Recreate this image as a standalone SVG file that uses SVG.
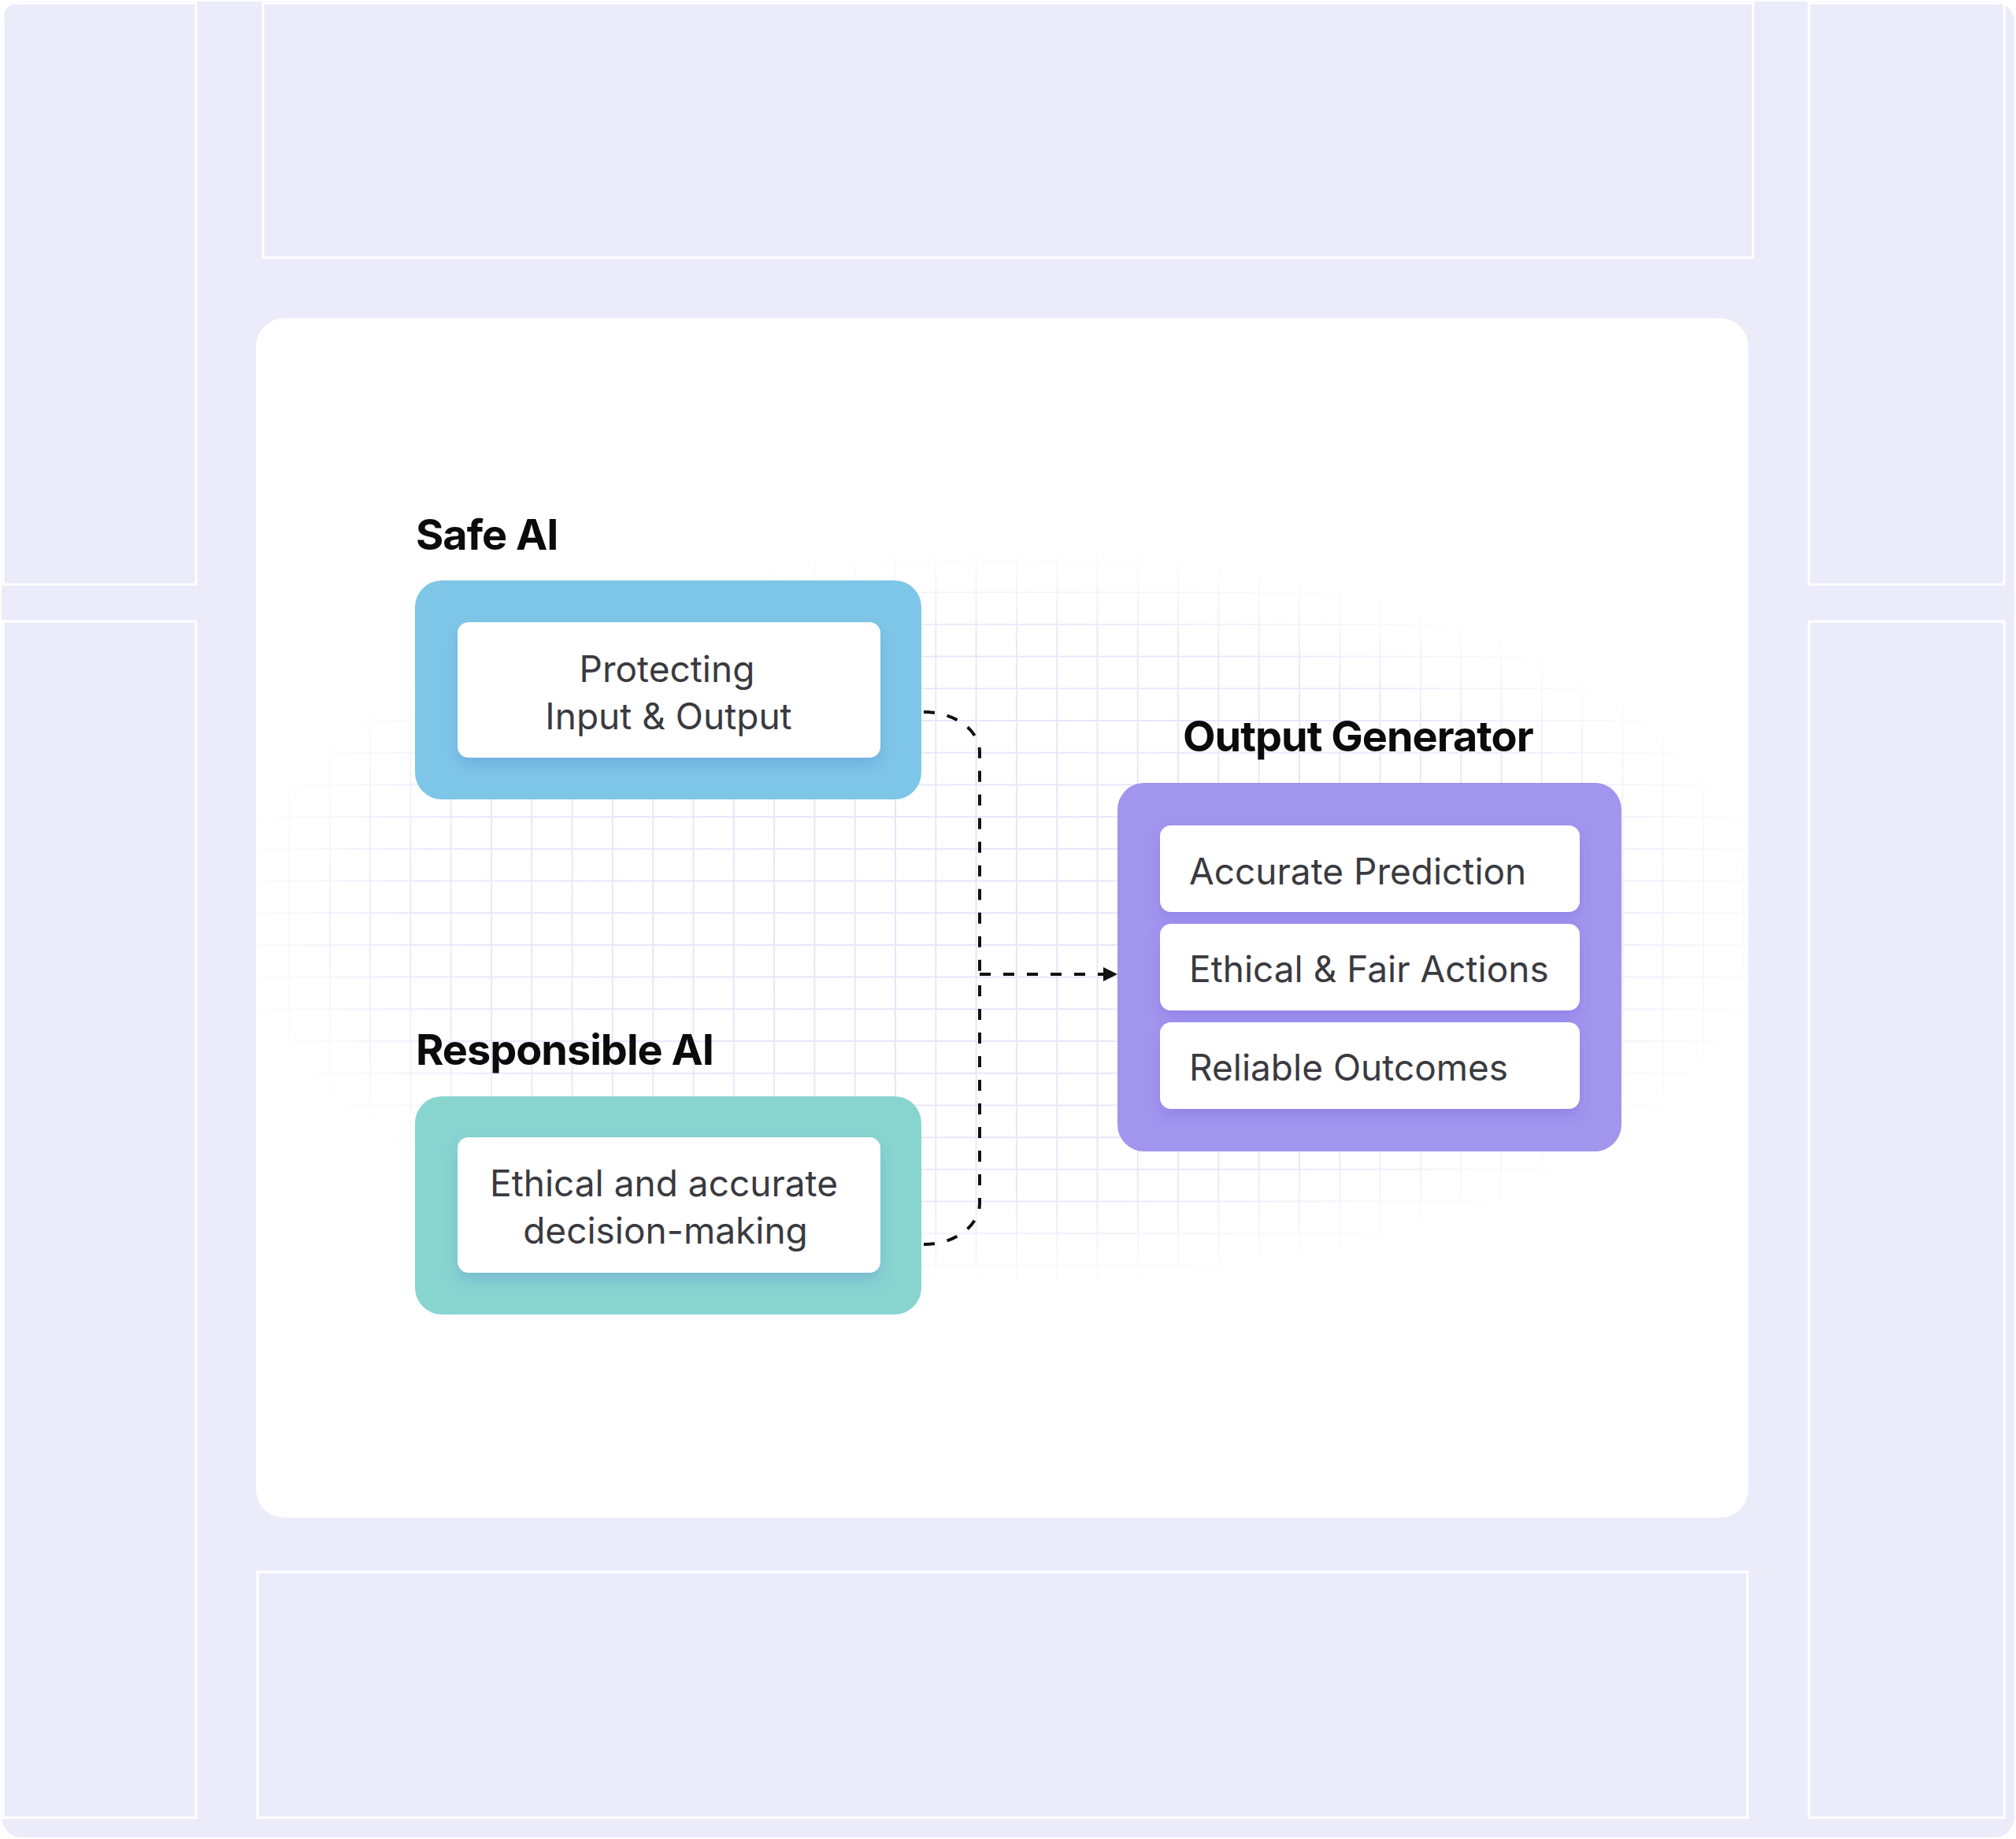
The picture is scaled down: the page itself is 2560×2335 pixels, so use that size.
<svg xmlns="http://www.w3.org/2000/svg" width="2560" height="2335" viewBox="0 0 2560 2335">
  <defs>
    <style>
      .panel { fill: none; stroke: #ffffff; stroke-width: 3; }
      .title { font-family: Inter, "Liberation Sans", sans-serif; font-weight: 700; font-size: 54px; fill: #0b0b0d; letter-spacing: -1px; }
      .label { font-family: Inter, "Liberation Sans", sans-serif; font-weight: 400; font-size: 46px; fill: #3a3a40; }
      .inner { fill: #ffffff; }
      .conn { fill: none; stroke: #111111; stroke-width: 4; stroke-dasharray: 14 16; }
    </style>
    <pattern id="grid" patternUnits="userSpaceOnUse" x="520.4" y="710.5" width="51.3" height="40.7">
      <path d="M1,0 V40.7 M0,1 H51.3" stroke="#e6e4f9" stroke-width="2" fill="none"/>
    </pattern>
    <radialGradient id="fade" cx="0.5" cy="0.5" r="0.5">
      <stop offset="0" stop-color="#fff" stop-opacity="1"/>
      <stop offset="0.75" stop-color="#fff" stop-opacity="0.85"/>
      <stop offset="1" stop-color="#fff" stop-opacity="0"/>
    </radialGradient>
    <mask id="gridMask" maskUnits="userSpaceOnUse" x="0" y="0" width="2560" height="2335">
      <rect x="280" y="690" width="1986" height="950" fill="url(#fade)"/>
    </mask>
    <filter id="shBlue" x="-10%" y="-20%" width="120%" height="160%">
      <feDropShadow dx="0" dy="10" stdDeviation="9" flood-color="#4a6fd0" flood-opacity="0.25"/>
    </filter>
    <filter id="shPurple" x="-10%" y="-20%" width="120%" height="160%">
      <feDropShadow dx="0" dy="8" stdDeviation="8" flood-color="#5a44c8" flood-opacity="0.2"/>
    </filter>
  </defs>

  <rect width="2560" height="2335" fill="#ffffff"/>
  <rect x="2" y="2" width="2556" height="2331" rx="26" fill="#ecebfa"/>

  <g id="frame-panels">
    <rect class="panel" x="4" y="4" width="245" height="738"/>
    <rect class="panel" x="4" y="789" width="245" height="1519"/>
    <rect class="panel" x="2297" y="4" width="248" height="738"/>
    <rect class="panel" x="2297" y="789" width="248" height="1519"/>
    <rect class="panel" x="334" y="4" width="1892" height="323"/>
    <rect class="panel" x="327" y="1996" width="1892" height="312"/>
  </g>

  <g id="card">
    <rect x="325" y="404" width="1895" height="1523" rx="36" fill="#ffffff"/>
    <rect x="327" y="690" width="1891" height="950" fill="url(#grid)" mask="url(#gridMask)"/>
  </g>

  <g id="connectors">
    <path class="conn" d="M1173,904 A71,51 0 0 1 1244,955 L1244,1237"/>
    <path class="conn" d="M1173,1580 A71,52 0 0 0 1244,1528 L1244,1237"/>
    <path class="conn" d="M1244,1237 L1402,1237"/>
    <path d="M1401,1228 L1419,1237 L1401,1246 Z" fill="#111111"/>
  </g>

  <g id="safe-ai">
    <text class="title" x="528" y="698">Safe AI</text>
    <rect x="527" y="737" width="643" height="278" rx="34" fill="#7ec6e7"/>
    <rect class="inner" x="581" y="790" width="537" height="172" rx="14" filter="url(#shBlue)"/>
    <text class="label" x="847" y="866" text-anchor="middle">Protecting</text>
    <text class="label" x="849" y="926" text-anchor="middle">Input &amp; Output</text>
  </g>

  <g id="responsible-ai">
    <text class="title" x="528" y="1352">Responsible AI</text>
    <rect x="527" y="1392" width="643" height="277" rx="34" fill="#88d5d0"/>
    <rect class="inner" x="581" y="1444" width="537" height="172" rx="14" filter="url(#shBlue)"/>
    <text class="label" x="843" y="1519" text-anchor="middle">Ethical and accurate</text>
    <text class="label" x="845" y="1579" text-anchor="middle">decision-making</text>
  </g>

  <g id="output-generator">
    <text class="title" x="1502" y="954">Output Generator</text>
    <rect x="1419" y="994" width="640" height="468" rx="34" fill="#a195ee"/>
    <rect class="inner" x="1473" y="1048" width="533" height="110" rx="14" filter="url(#shPurple)"/>
    <rect class="inner" x="1473" y="1173" width="533" height="110" rx="14" filter="url(#shPurple)"/>
    <rect class="inner" x="1473" y="1298" width="533" height="110" rx="14" filter="url(#shPurple)"/>
    <text class="label" x="1510" y="1123">Accurate Prediction</text>
    <text class="label" x="1510" y="1247">Ethical &amp; Fair Actions</text>
    <text class="label" x="1510" y="1372">Reliable Outcomes</text>
  </g>
</svg>
